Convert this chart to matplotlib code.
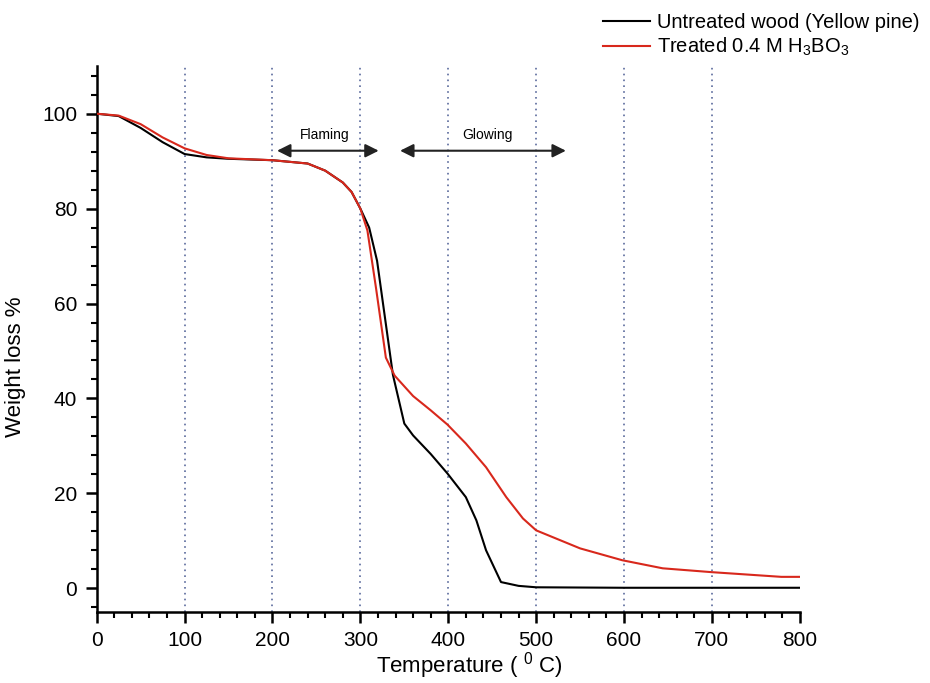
import matplotlib
matplotlib.use("Agg")
import matplotlib.pyplot as plt
from matplotlib.ticker import MultipleLocator

plt.rcParams['font.family'] = ['Liberation Sans', 'DejaVu Sans']
plt.rcParams['mathtext.fontset'] = 'custom'
plt.rcParams['mathtext.rm'] = 'Liberation Sans'
plt.rcParams['mathtext.it'] = 'Liberation Sans'

# Untreated wood (Yellow pine)
temp_untreated = [0, 25, 50, 75, 100, 125, 150, 200, 240, 260, 280, 290, 300, 310, 319,
                  328, 337, 350, 360, 380, 399, 420, 432, 443, 460, 480, 500, 600, 700, 800]
wl_untreated = [100, 99.5, 97, 94, 91.5, 90.8, 90.5, 90.2, 89.5, 88, 85.5, 83.5, 80, 76, 69,
                57, 45, 34.7, 32.2, 28.3, 24.2, 19.2, 14.3, 8, 1.3, 0.5, 0.2, 0.1, 0.1, 0.1]

# Treated 0.4 M H3BO3
temp_treated = [0, 25, 50, 75, 100, 125, 150, 200, 240, 260, 280, 290, 300, 308, 318,
                329, 339, 360, 380, 399, 420, 443, 466, 485, 500, 550, 598, 644, 699, 739, 779, 800]
wl_treated = [100, 99.6, 97.8, 95, 92.7, 91.3, 90.6, 90.2, 89.5, 88, 85.5, 83.5, 80, 75.4, 63,
              48.6, 44.8, 40.5, 37.5, 34.5, 30.5, 25.5, 19.2, 14.7, 12.2, 8.4, 5.9, 4.2, 3.4, 2.9, 2.4, 2.4]

vlines = [100, 200, 300, 400, 500, 600, 700]

fig = plt.figure(figsize=(9.3, 6.83), dpi=100)
ax = fig.add_axes([0.104, 0.104, 0.756, 0.799])

for v in vlines:
    ax.axvline(v, color='#5a6a9c', linestyle=(0, (1, 2.5)), linewidth=1.2, zorder=1)

ax.plot(temp_untreated, wl_untreated, color='black', linewidth=1.5,
        label='Untreated wood (Yellow pine)', zorder=3)
ax.plot(temp_treated, wl_treated, color='#d8281c', linewidth=1.5,
        label='Treated 0.4 M H$_3$BO$_3$', zorder=3)

ax.set_xlim(0, 800)
ax.set_ylim(-5, 110)
ax.xaxis.set_major_locator(MultipleLocator(100))
ax.xaxis.set_minor_locator(MultipleLocator(20))
ax.yaxis.set_major_locator(MultipleLocator(20))
ax.yaxis.set_minor_locator(MultipleLocator(4))
ax.set_yticks([0, 20, 40, 60, 80, 100])

for s in ['top', 'right']:
    ax.spines[s].set_visible(False)
for s in ['left', 'bottom']:
    ax.spines[s].set_linewidth(1.8)

ax.tick_params(which='major', direction='out', length=8, width=1.8, labelsize=15, pad=6)
ax.tick_params(which='minor', direction='out', length=4, width=1.5)

ax.set_xlabel('Temperature ( $^{0}$ C)', fontsize=16)
ax.set_ylabel('Weight loss %', fontsize=16)
ax.xaxis.set_label_coords(0.53, -0.07)
ax.yaxis.set_label_coords(-0.1, 0.45)

# Arrows
arrowprops = dict(arrowstyle='<|-|>', color='#222222', lw=1.5, mutation_scale=20)
ax.annotate('', xy=(202, 92.2), xytext=(324, 92.2), arrowprops=arrowprops)
ax.annotate('', xy=(342, 92.2), xytext=(537, 92.2), arrowprops=arrowprops)
ax.text(259, 95.6, 'Flaming', ha='center', va='center', fontsize=10)
ax.text(445, 95.6, 'Glowing', ha='center', va='center', fontsize=10)

leg = fig.legend(loc='upper left', bbox_to_anchor=(0.64, 0.993), frameon=False,
                 fontsize=14.5, handlelength=2.3, handletextpad=0.35, labelspacing=0.2,
                 borderaxespad=0)

fig.savefig('out.png', dpi=100)
